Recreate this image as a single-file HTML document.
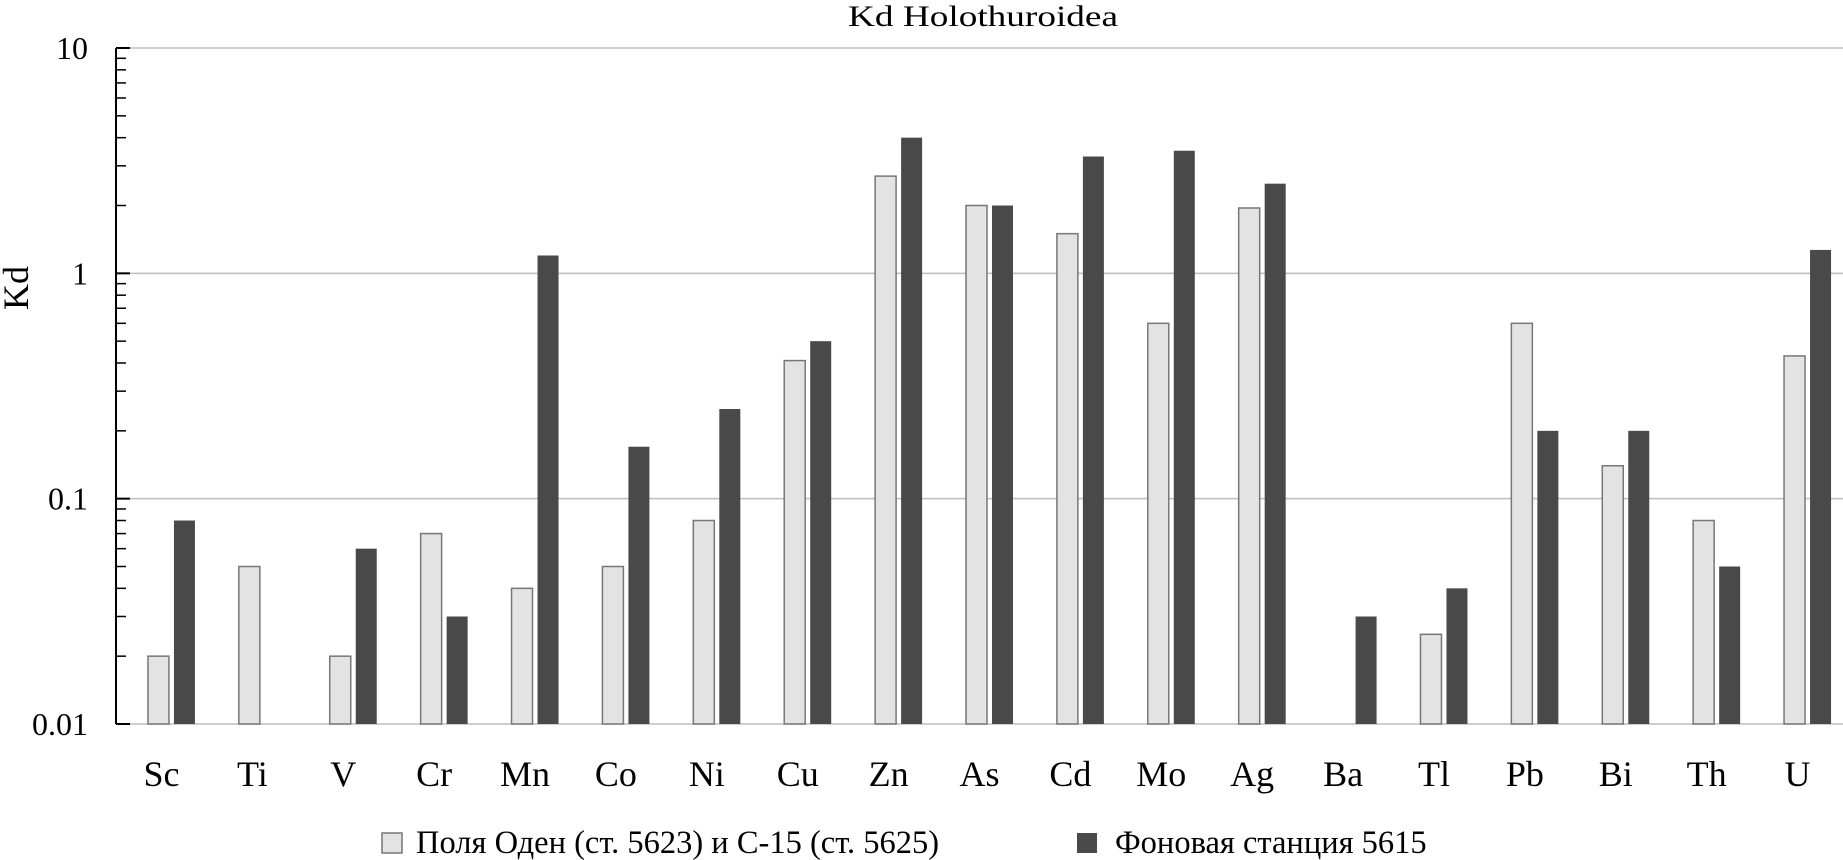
<!DOCTYPE html>
<html><head><meta charset="utf-8"><style>
body{margin:0;background:#fff}
svg{display:block;font-family:"Liberation Serif",serif}
</style></head><body>
<svg id="chart" width="1843" height="860" viewBox="0 0 1843 860" xmlns="http://www.w3.org/2000/svg">
<text x="848" y="26" font-size="30" textLength="270" lengthAdjust="spacingAndGlyphs">Kd Holothuroidea</text>
<text x="0" y="0" font-size="36" text-anchor="middle" transform="translate(28,288) rotate(-90)">Kd</text>
<g id="grid"></g><g id="bars"></g><g id="axis"></g><g id="xlabels"></g>
<g>
<rect x="382" y="833" width="20" height="20" fill="#e3e3e3" stroke="#777" stroke-width="1.5"/>
<text x="416" y="853" font-size="32.5">Поля Оден (ст. 5623) и С-15 (ст. 5625)</text>
<rect x="1077" y="833" width="20" height="20" fill="#494949"/>
<text x="1115" y="853" font-size="32.5">Фоновая станция 5615</text>
</g>
</svg>
<script>
const categories=["Sc","Ti","V","Cr","Mn","Co","Ni","Cu","Zn","As","Cd","Mo","Ag","Ba","Tl","Pb","Bi","Th","U"];
const fieldValues=[0.02,0.05,0.02,0.07,0.04,0.05,0.08,0.41,2.7,2.0,1.5,0.6,1.95,null,0.025,0.6,0.14,0.08,0.43];
const backgroundValues=[0.08,null,0.06,0.03,1.2,0.17,0.25,0.5,4.0,2.0,3.3,3.5,2.5,0.03,0.04,0.2,0.2,0.05,1.27];
const yTicks=[0.01,0.1,1,10];
const yTickLabels=["0.01","0.1","1","10"];
const NS="http://www.w3.org/2000/svg";
const X0=116,X1=1843,YT=48,YB=724;
const band=(X1-X0)/categories.length;
function y(v){return YB-(Math.log10(v)+2)/3*(YB-YT);}
function xc(i){return X0+band*(i+0.5);}
function mk(t,a,p){const e=document.createElementNS(NS,t);for(const k in a)e.setAttribute(k,a[k]);p.appendChild(e);return e;}
const grid=document.getElementById('grid'),axis=document.getElementById('axis'),bars=document.getElementById('bars'),xl=document.getElementById('xlabels');
yTicks.forEach((t,i)=>{
 const g=mk('line',{x1:X0,x2:X1,y1:y(t),y2:y(t),stroke:'#bdbdbd','stroke-width':1.5},grid);
 
 
 const tk=mk('line',{x1:X0,x2:X0+14,y1:y(t),y2:y(t),stroke:'#000','stroke-width':2},axis);
 
 
 const lb=mk('text',{x:88,y:y(t)+11,'font-size':32,'text-anchor':'end'},axis);
 lb.textContent=yTickLabels[i];
 
 
 if(i<yTicks.length-1){for(let m=2;m<=9;m++){
  const mt=mk('line',{x1:X0,x2:X0+10,y1:y(t*m),y2:y(t*m),stroke:'#000','stroke-width':1.5},axis);
  
  
 }}
});
const ax=mk('line',{x1:X0,x2:X0,y1:YT,y2:YB,stroke:'#000','stroke-width':2},axis);


const bw=21,gap=5,off=10;
categories.forEach((c,i)=>{
 const cx=xc(i)+off;
 if(fieldValues[i]!=null){
  const r=mk('rect',{x:cx-gap/2-bw,y:y(fieldValues[i]),width:bw,height:YB-y(fieldValues[i]),fill:'#e3e3e3',stroke:'#777','stroke-width':1.5},bars);
  
  
 }
 if(backgroundValues[i]!=null){
  const r=mk('rect',{x:cx+gap/2,y:y(backgroundValues[i]),width:bw,height:YB-y(backgroundValues[i]),fill:'#494949'},bars);
  
  
 }
 const t=mk('text',{x:xc(i),y:786,'font-size':36,'text-anchor':'middle'},xl);
 t.textContent=c;
 
 
});
</script>
</body></html>
